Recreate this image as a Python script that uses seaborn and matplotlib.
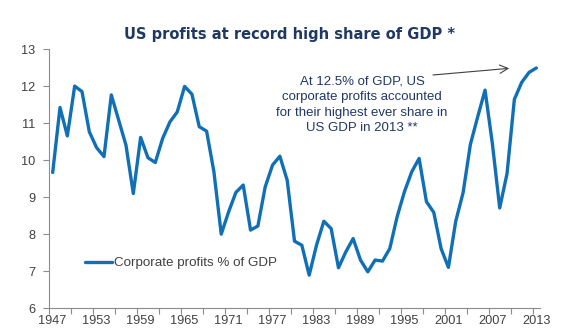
import numpy as np
import pandas as pd
import matplotlib
matplotlib.use("Agg")
import matplotlib.pyplot as plt
import seaborn as sns
from matplotlib.ticker import FixedLocator

# US corporate profits as a share of GDP, annual
years = list(range(1947, 2014))
profits_pct_gdp = [
    9.67, 11.43, 10.66, 12.01, 11.86, 10.77, 10.34, 10.10, 11.77, 11.09,
    10.41, 9.10, 10.62, 10.07, 9.94, 10.59, 11.04, 11.31, 12.00, 11.79,
    10.91, 10.79, 9.69, 8.00, 8.60, 9.13, 9.33, 8.11, 8.22, 9.28,
    9.87, 10.11, 9.46, 7.81, 7.70, 6.89, 7.70, 8.35, 8.15, 7.09,
    7.52, 7.88, 7.30, 6.98, 7.30, 7.27, 7.61, 8.47, 9.15, 9.69,
    10.05, 8.88, 8.59, 7.61, 7.10, 8.35, 9.12, 10.43, 11.18, 11.90,
    10.45, 8.71, 9.64, 11.65, 12.11, 12.38, 12.50,
]
label_years = list(range(1947, 2014, 6))
y_ticks = list(range(6, 14))

df = pd.DataFrame({"year": years, "pct": profits_pct_gdp})

sns.set_style("white")
plt.rcParams["font.family"] = ["Liberation Sans", "DejaVu Sans"]

line_color = "#1170B5"
navy = "#1F3864"
grey_text = "#404040"
spine_color = "#8C8C8C"

fig = plt.figure(figsize=(5.85, 3.34), dpi=100)
ax = fig.add_axes([0.0838, 0.0778, 0.8393, 0.7740])

sns.lineplot(data=df, x="year", y="pct", ax=ax, color=line_color,
             linewidth=2.4, label="Corporate profits % of GDP")

ax.set_xlim(1946.5, 2013.5)
ax.set_ylim(6, 13)
ax.set_xlabel("")
ax.set_ylabel("")

# category-style axis: labels under the years, tick marks between groups of 3
ax.xaxis.set_major_locator(FixedLocator(label_years))
ax.xaxis.set_minor_locator(FixedLocator(list(np.arange(1946.5, 2013.0, 3))))
ax.set_xticklabels([str(y) for y in label_years])
ax.tick_params(axis="x", which="major", length=0, pad=5,
               labelsize=9.2, labelcolor=grey_text)
ax.tick_params(axis="x", which="minor", length=4, width=0.8,
               color=spine_color, direction="out", bottom=True)
ax.set_yticks(y_ticks)
ax.tick_params(axis="y", which="major", length=4, width=0.8, pad=6,
               color=spine_color, direction="out", left=True,
               labelsize=9.2, labelcolor=grey_text)

for side in ("top", "right"):
    ax.spines[side].set_visible(False)
for side in ("left", "bottom"):
    ax.spines[side].set_color(spine_color)
    ax.spines[side].set_linewidth(0.8)

leg = ax.legend(loc="center left", bbox_to_anchor=(0.073, 0.174),
                frameon=False, borderpad=0, borderaxespad=0,
                handlelength=2.0, handletextpad=0.2, fontsize=9.6)
for t in leg.get_texts():
    t.set_color(grey_text)
for h in leg.get_lines():
    h.set_linewidth(2.4)

fig.text(0.495, 0.897, "US profits at record high share of GDP *",
         ha="center", va="center", fontsize=10.5, fontweight="bold",
         color=navy, family=["DejaVu Sans"])

ax.text(1989.2, 11.5,
        "At 12.5% of GDP, US\ncorporate profits accounted\n"
        "for their highest ever share in\nUS GDP in 2013 **",
        ha="center", va="center", multialignment="center",
        fontsize=9.5, color=navy, linespacing=1.4)

ax.annotate("", xy=(2009.3, 12.49), xytext=(1998.9, 12.31),
            arrowprops=dict(arrowstyle="->,head_length=0.6,head_width=0.3",
                            color="#404040", lw=0.8, shrinkA=0, shrinkB=0))

fig.savefig("out.png", dpi=100)
